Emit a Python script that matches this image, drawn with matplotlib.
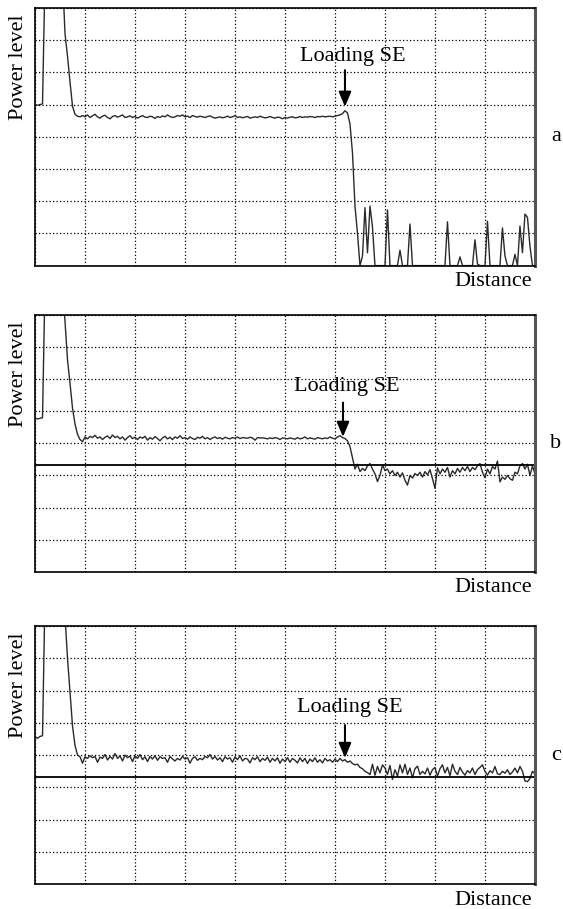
import matplotlib
matplotlib.use("Agg")
import matplotlib.pyplot as plt
import numpy as np

plt.rcParams['font.family'] = ['Liberation Serif', 'DejaVu Serif']

# reflectogram traces, one sample every 0.05 grid division (0..10)
trace_a = [
    5.0, 4.98, 5.0, 5.02, 9, 9, 9, 9, 9, 9, 9, 9, 7.2, 6.5, 5.7, 4.95, 4.7, 4.64, 4.62,
    4.66, 4.62, 4.68, 4.6, 4.65, 4.7, 4.62, 4.58, 4.64, 4.67, 4.6, 4.56, 4.63, 4.66, 4.61, 4.64, 4.68, 4.6, 4.62, 4.65,
    4.6, 4.63, 4.58, 4.62, 4.66, 4.61, 4.6, 4.64, 4.62, 4.57, 4.63, 4.6, 4.65, 4.62, 4.68, 4.63, 4.6, 4.62, 4.66, 4.64,
    4.68, 4.62, 4.64, 4.6, 4.66, 4.63, 4.61, 4.64, 4.62, 4.6, 4.63, 4.65, 4.61, 4.58, 4.6, 4.62, 4.59, 4.61, 4.64, 4.6,
    4.62, 4.66, 4.6, 4.62, 4.59, 4.61, 4.63, 4.58, 4.6, 4.62, 4.6, 4.64, 4.61, 4.59, 4.6, 4.63, 4.6, 4.58, 4.61, 4.6,
    4.56, 4.6, 4.58, 4.61, 4.62, 4.59, 4.6, 4.63, 4.6, 4.62, 4.61, 4.63, 4.62, 4.6, 4.63, 4.62, 4.64, 4.62, 4.63, 4.64,
    4.62, 4.64, 4.66, 4.68, 4.72, 4.81, 4.74, 4.4, 3.5, 1.85, 1.0, 0.0,
    0.3, 1.8, 0.4, 1.85, 1.2, 0, 0, 0, 0, 0, 1.73, 0, 0, 0, 0, 0.48, 0, 0, 0, 1.29,
    0, 0, 0, 0, 0, 0, 0, 0, 0, 0, 0, 0, 0, 0, 1.36, 0, 0, 0, 0, 0.27,
    0, 0, 0, 0, 0, 0.8, 0.05, 0, 0, 0, 1.38, 0, 0, 0, 0, 0, 1.17, 0.3, 0, 0,
    0, 0.35, 0, 1.23, 0.4, 1.6, 1.5, 0.6, 0, 0,
]

trace_b = [
    4.78, 4.76, 4.78, 4.8, 9, 9, 9, 9, 9, 9, 9, 9, 7.8, 6.6, 5.87, 5.1, 4.6, 4.28, 4.12, 4.05,
    4.2, 4.14, 4.22, 4.18, 4.25, 4.16, 4.2, 4.12, 4.19, 4.23, 4.15, 4.26, 4.18, 4.22, 4.14, 4.2, 4.1, 4.18, 4.24, 4.15,
    4.19, 4.12, 4.2, 4.16, 4.22, 4.1, 4.18, 4.13, 4.21, 4.15, 4.08, 4.17, 4.22, 4.14, 4.19, 4.12, 4.2, 4.16, 4.24, 4.15,
    4.18, 4.13, 4.2, 4.15, 4.12, 4.19, 4.16, 4.22, 4.14, 4.18, 4.12, 4.17, 4.2, 4.15, 4.18, 4.13, 4.19, 4.16, 4.14, 4.18,
    4.16, 4.2, 4.15, 4.18, 4.17, 4.16, 4.19, 4.17, 4.1, 4.18, 4.17, 4.17, 4.16, 4.14, 4.17, 4.15, 4.18, 4.16, 4.12, 4.17,
    4.16, 4.14, 4.17, 4.15, 4.13, 4.18, 4.14, 4.16, 4.2, 4.14, 4.17, 4.15, 4.13, 4.18, 4.16, 4.14, 4.17, 4.15, 4.2, 4.16,
    4.14, 4.2, 4.24, 4.18, 4.15, 4.08, 3.9, 3.55, 3.2, 3.35, 3.12, 3.22, 3.15, 3.3, 3.37, 3.2, 3.05, 2.81, 3.0, 3.33,
    3.15, 3.2, 3.05, 3.15, 3.0, 3.1, 2.95, 3.08, 2.85, 2.7, 3.0, 2.92, 3.06, 3.0, 3.1, 2.95, 3.12, 3.02, 3.18, 2.9,
    2.6, 3.24, 3.05, 3.2, 3.1, 3.25, 2.95, 3.15, 3.05, 3.22, 3.1, 3.25, 3.15, 3.28, 3.12, 3.25, 3.18, 3.3, 3.37, 3.1,
    2.93, 3.2, 3.05, 3.28, 3.2, 3.45, 2.8, 2.95, 2.88, 3.0, 2.9, 2.85, 3.1, 3.05, 3.3, 3.37, 3.2, 3.35, 3.0, 3.3,
    3.05,
]

trace_c = [
    4.57, 4.52, 4.58, 4.6, 9, 9, 9, 9, 9, 9, 9, 9, 8.3, 7.0, 5.95, 4.9, 4.3, 4.0, 3.95, 3.75,
    3.95, 3.9, 3.98, 3.92, 3.96, 3.78, 3.94, 3.9, 4.02, 3.85, 3.96, 3.88, 4.05, 3.9, 3.98, 3.82, 4.0, 3.92, 3.97, 3.8,
    3.98, 3.9, 4.02, 3.86, 3.95, 3.8, 3.96, 3.88, 3.98, 3.84, 3.95, 3.9, 3.92, 3.78, 3.96, 3.88, 3.82, 3.9, 3.85, 3.96,
    3.88, 3.92, 3.75, 3.9, 3.95, 3.84, 3.9, 3.86, 3.96, 3.92, 4.02, 3.88, 3.96, 3.85, 3.92, 3.8, 3.95, 3.88, 3.92, 3.78,
    3.95, 3.86, 3.98, 3.82, 3.9, 3.88, 3.76, 3.92, 3.86, 3.95, 3.8, 3.9, 3.84, 3.94, 3.78, 3.9, 3.82, 3.92, 3.75, 3.88,
    3.8, 3.92, 3.78, 3.9, 3.84, 3.76, 3.92, 3.8, 3.9, 3.74, 3.88, 3.8, 3.92, 3.78, 3.86, 3.76, 3.9, 3.82, 3.86, 3.78,
    3.88, 3.8, 3.9, 3.82, 3.86, 3.78, 3.82, 3.74, 3.7, 3.72, 3.62, 3.58, 3.5, 3.46, 3.4, 3.72, 3.38, 3.65, 3.45, 3.7,
    3.6, 3.4, 3.68, 3.25, 3.55, 3.35, 3.7, 3.45, 3.72, 3.4, 3.6, 3.3, 3.58, 3.66, 3.4, 3.5, 3.42, 3.6, 3.38, 3.55,
    3.62, 3.35, 3.58, 3.7, 3.45, 3.62, 3.36, 3.72, 3.5, 3.4, 3.62, 3.48, 3.38, 3.52, 3.45, 3.6, 3.4, 3.55, 3.62, 3.7,
    3.5, 3.38, 3.52, 3.45, 3.65, 3.42, 3.4, 3.5, 3.44, 3.55, 3.4, 3.48, 3.6, 3.45, 3.65, 3.5, 3.2, 3.18, 3.28, 3.5,
    3.42,
]

panel_letters = ['a', 'b', 'c']
traces = [trace_a, trace_b, trace_c]
ref_levels = [None, 3.33, 3.33]          # solid reference line (b, c)
se_x = [6.2, 6.16, 6.2]                  # position of loading SE
se_tip = [4.93, 4.2, 3.91]
se_tail = [6.07, 5.27, 4.93]
se_text_xy = [(6.36, 6.49), (6.24, 5.76), (6.3, 5.46)]

# axes rectangles in figure fractions
rects = [
    [0.0622, 0.7078, 0.888, 0.2834],
    [0.0622, 0.3710, 0.888, 0.2825],
    [0.0622, 0.0271, 0.888, 0.2843],
]

fig = plt.figure(figsize=(5.63, 9.09), dpi=100)
fs = 16

for i in range(3):
    ax = fig.add_axes(rects[i])
    y = np.array(traces[i])
    x = np.linspace(0, 10, len(y))
    ax.plot(x, y, color='#2a2a2a', lw=1.0)
    if ref_levels[i] is not None:
        ax.axhline(ref_levels[i], color='black', lw=1.3)
    ax.set_xlim(0, 10)
    ax.set_ylim(0, 8)
    ax.set_xticks(range(11))
    ax.set_yticks(range(9))
    ax.tick_params(length=0, labelbottom=False, labelleft=False)
    ax.grid(True, color='black', linestyle=(0, (1, 1.8)), linewidth=0.9)
    for s in ax.spines.values():
        s.set_linewidth(1.2)
    ax.spines['right'].set_linewidth(2.2)
    ax.spines['right'].set_color('#555555')

    ax.annotate('', xy=(se_x[i], se_tip[i]), xytext=(se_x[i], se_tail[i]),
                arrowprops=dict(arrowstyle='-|>,head_length=0.6,head_width=0.25',
                                mutation_scale=15, lw=1.5, color='black',
                                shrinkA=0, shrinkB=0))
    ax.text(se_text_xy[i][0], se_text_xy[i][1], 'Loading SE', fontsize=fs,
            ha='center', va='center')

    ax.text(-0.034, 0.77, 'Power level', rotation=90, fontsize=fs,
            ha='center', va='center', transform=ax.transAxes)
    ax.text(0.994, -0.062, 'Distance', fontsize=fs, ha='right', va='center',
            transform=ax.transAxes)
    ax.text(1.042, 0.5, panel_letters[i], fontsize=fs, ha='center', va='center',
            transform=ax.transAxes)

fig.savefig('out.png', dpi=100)
